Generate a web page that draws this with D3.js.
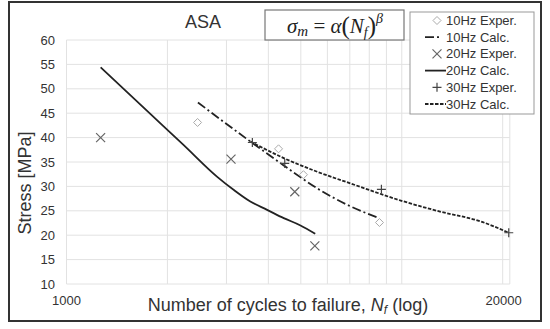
<!DOCTYPE html>
<html><head><meta charset="utf-8">
<script src="https://cdn.jsdelivr.net/npm/d3@7"></script>
<style>body{margin:0;background:#fff}svg{display:block}text{font-family:"Liberation Sans",Arial,sans-serif;fill:#333}</style>
</head><body><svg id="c" width="550" height="329"></svg>
<script>
// ---- data ----
const exp10N = [2460, 4290, 5090, 8580];
const exp10S = [43.1, 37.7, 32.4, 22.6];
const calc10N = [2466, 3534, 4446, 5596, 7039, 8563];
const calc10S = [47.2, 39.2, 34.3, 29.6, 25.9, 23.5];
const exp20N = [1264, 3095, 4796, 5505];
const exp20S = [40.0, 35.6, 28.9, 17.8];
const calc20N = [1264, 1775, 2233, 2810, 3150, 3534, 3966, 4446, 4988, 5519];
const calc20S = [54.4, 44.9, 38.5, 32.0, 29.3, 26.9, 25.2, 23.5, 22.0, 20.3];
const exp30N = [3584, 4477, 8695, 20850];
const exp30S = [39.0, 34.7, 29.4, 20.5];
const calc30N = [3534, 4446, 5596, 7039, 9931, 13080, 17230, 20850];
const calc30S = [39.2, 35.8, 33.0, 30.6, 27.1, 24.8, 22.8, 20.5];
const yTicks = [10, 15, 20, 25, 30, 35, 40, 45, 50, 55, 60];
const xGrid = [2000, 3000, 4000, 5000, 6000, 7000, 8000, 9000, 10000, 20000];
const xLabels = [1000, 20000];
const legendLabels = ["10Hz Exper.", "10Hz Calc.", "20Hz Exper.", "20Hz Calc.", "30Hz Exper.", "30Hz Calc."];

const svg = d3.select("#c");
const x = d3.scaleLog().domain([1000, 21000]).range([66.5, 509.8]);
const y = d3.scaleLinear().domain([10, 60]).range([284, 40]);

// outer frame
svg.append("rect").attr("x", 9).attr("y", 2).attr("width", 532).attr("height", 319)
  .attr("fill", "#fff").attr("stroke", "#333").attr("stroke-width", 2);

// grid
const g = svg.append("g");
g.selectAll(".hg").data(yTicks).join("line")
  .attr("x1", x(1000)).attr("x2", x(21000)).attr("y1", d => y(d)).attr("y2", d => y(d))
  .attr("stroke", "#e2e2e2").attr("stroke-width", 1);
g.selectAll(".vg").data([1000, ...xGrid, 21000]).join("line")
  .attr("x1", d => x(d)).attr("x2", d => x(d)).attr("y1", y(60)).attr("y2", y(10))
  .attr("stroke", "#e2e2e2").attr("stroke-width", 1);

// axis labels
svg.selectAll(".yl").data(yTicks).join("text")
  .attr("x", 55).attr("y", d => y(d)).attr("dy", "0.35em").attr("text-anchor", "end")
  .attr("font-size", 13).text(d => d);
svg.selectAll(".xl").data(xLabels).join("text")
  .attr("x", d => x(d) + (d === 20000 ? 1 : 0)).attr("y", 305).attr("text-anchor", "middle")
  .attr("font-size", 13).text(d => d);

// axis titles
svg.append("text").attr("transform", "translate(31,183) rotate(-90)").attr("text-anchor", "middle")
  .attr("font-size", 18).text("Stress [MPa]");
const xt = svg.append("text").attr("x", 288).attr("y", 311).attr("text-anchor", "middle").attr("font-size", 18);
xt.append("tspan").text("Number of cycles to failure, ");
xt.append("tspan").attr("font-style", "italic").text("N");
xt.append("tspan").attr("font-style", "italic").attr("font-size", 12).attr("dy", 3).text("f");
xt.append("tspan").attr("dy", -3).text(" (log)");

// title
svg.append("text").attr("x", 203).attr("y", 28).attr("text-anchor", "middle").attr("font-size", 18).text("ASA");

// formula box
svg.append("rect").attr("x", 265).attr("y", 10).attr("width", 139).attr("height", 30)
  .attr("fill", "#fff").attr("stroke", "#777").attr("stroke-width", 1.2);
const ft = svg.append("text").attr("x", 335).attr("y", 33).attr("text-anchor", "middle")
  .style("font-family", "'Liberation Serif','DejaVu Serif',serif").attr("font-size", 21).style("fill", "#222");
ft.append("tspan").attr("font-style", "italic").text("σ");
ft.append("tspan").attr("font-style", "italic").attr("font-size", 15).attr("dy", 3).text("m");
ft.append("tspan").attr("dy", -3).text(" = ");
ft.append("tspan").attr("font-style", "italic").text("α");
ft.append("tspan").attr("font-size", 25).attr("dy", 1).text("(");
ft.append("tspan").attr("font-style", "italic").attr("dy", -1).text("N");
ft.append("tspan").attr("font-style", "italic").attr("font-size", 14).attr("dy", 4).text("f");
ft.append("tspan").attr("font-size", 25).attr("dy", -3).text(")");
ft.append("tspan").attr("font-style", "italic").attr("font-size", 14).attr("dy", -11).text("β");

// lines
const line = d3.line().x(d => x(d[0])).y(d => y(d[1])).curve(d3.curveMonotoneX);
const zip = (a, b) => a.map((v, i) => [v, b[i]]);
svg.append("path").datum(zip(calc20N, calc20S)).attr("d", line)
  .attr("fill", "none").attr("stroke", "#222").attr("stroke-width", 1.8);
svg.append("path").datum(zip(calc10N, calc10S)).attr("d", line)
  .attr("fill", "none").attr("stroke", "#222").attr("stroke-width", 1.8).attr("stroke-dasharray", "9,3,2,3");
svg.append("path").datum(zip(calc30N, calc30S)).attr("d", line)
  .attr("fill", "none").attr("stroke", "#222").attr("stroke-width", 1.8).attr("stroke-dasharray", "3.5,1.5");

// markers
function diamond(sel, cx, cy) {
  sel.append("path").attr("d", `M${cx},${cy - 4}L${cx + 4},${cy}L${cx},${cy + 4}L${cx - 4},${cy}Z`)
    .attr("fill", "#fff").attr("stroke", "#aaa").attr("stroke-width", 1);
}
function cross(sel, cx, cy) {
  sel.append("path").attr("d", `M${cx - 4.5},${cy - 4.5}L${cx + 4.5},${cy + 4.5}M${cx - 4.5},${cy + 4.5}L${cx + 4.5},${cy - 4.5}`)
    .attr("stroke", "#666").attr("stroke-width", 1.2);
}
function plus(sel, cx, cy) {
  sel.append("path").attr("d", `M${cx - 4.5},${cy}L${cx + 4.5},${cy}M${cx},${cy - 4.5}L${cx},${cy + 4.5}`)
    .attr("stroke", "#444").attr("stroke-width", 1.2);
}
const m = svg.append("g");
zip(exp10N, exp10S).forEach(d => diamond(m, x(d[0]), y(d[1])));
zip(exp20N, exp20S).forEach(d => cross(m, x(d[0]), y(d[1])));
zip(exp30N, exp30S).forEach(d => plus(m, x(d[0]), y(d[1])));

// legend
svg.append("rect").attr("x", 410).attr("y", 12).attr("width", 124).attr("height", 102)
  .attr("fill", "#fff").attr("stroke", "#999").attr("stroke-width", 1);
const lg = svg.append("g");
legendLabels.forEach((t, i) => {
  const cy = 20.5 + i * 16.7;
  lg.append("text").attr("x", 446).attr("y", cy).attr("dy", "0.35em").attr("font-size", 13).text(t);
  if (i === 0) diamond(lg, 437, cy);
  if (i === 2) cross(lg, 437, cy);
  if (i === 4) plus(lg, 437, cy);
  if (i === 1) lg.append("path").attr("d", `M425,${cy}L442,${cy}`).attr("stroke", "#222").attr("stroke-width", 1.8).attr("stroke-dasharray", "9,3,2,3");
  if (i === 3) lg.append("path").attr("d", `M425,${cy}L446,${cy}`).attr("stroke", "#222").attr("stroke-width", 1.8);
  if (i === 5) lg.append("path").attr("d", `M425,${cy}L446,${cy}`).attr("stroke", "#222").attr("stroke-width", 1.8).attr("stroke-dasharray", "3.5,1.5");
});
</script></body></html>
